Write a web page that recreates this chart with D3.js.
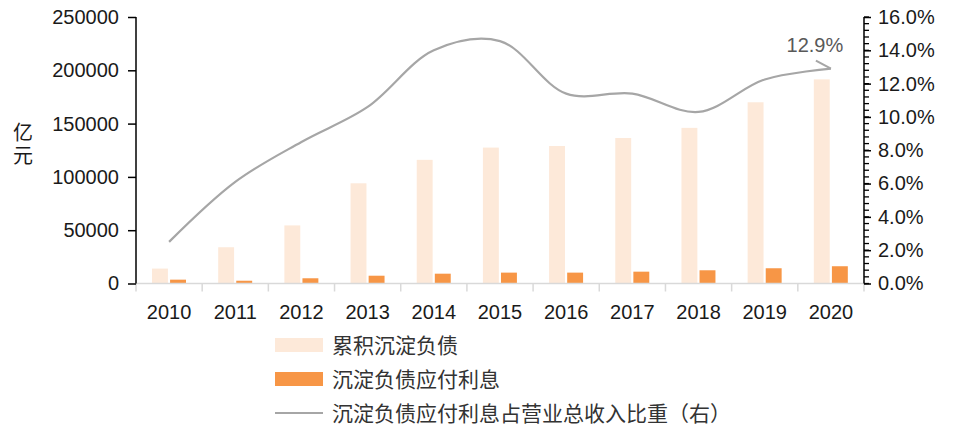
<!DOCTYPE html>
<html><head><meta charset="utf-8">
<script src="https://cdn.jsdelivr.net/npm/d3@7"></script>
<style>
html,body{margin:0;padding:0;background:#fff;}
svg{display:block;font-family:"Liberation Sans",Arial,"Noto Sans CJK SC",sans-serif;}
.cjk{font-family:"Noto Sans CJK SC","Liberation Sans",sans-serif;}
</style></head>
<body>
<script>
const years = ["2010","2011","2012","2013","2014","2015","2016","2017","2018","2019","2020"];
const accumulated = [14000,34000,54500,94000,116000,127500,129000,136500,146000,170000,191500];
const interest = [3600,2600,4900,7300,9200,10200,10200,11100,12400,14300,16200];
const ratio = [0.025,0.061,0.085,0.106,0.140,0.1455,0.114,0.114,0.103,0.1225,0.129];
const leftTicks = [0,50000,100000,150000,200000,250000];
const rightTicks = [0,0.02,0.04,0.06,0.08,0.10,0.12,0.14,0.16];
const legendLabels = ["累积沉淀负债","沉淀负债应付利息","沉淀负债应付利息占营业总收入比重（右）"];
const annotation = "12.9%";
const unitLabel = "亿元";

const W=960,H=432;
const L=136,R=864,T=17,B=283.5;
const colLight="#FDE9D9", colOrange="#F79646", colLine="#A6A6A6";

const svg=d3.select("body").append("svg").attr("width",W).attr("height",H);

const x=d3.scaleBand().domain(years).range([L,R]).padding(0);
const keys=["acc","int"];
const x1=d3.scaleBand().domain(keys).range([16,50]).paddingInner(0.12);
const y=d3.scaleLinear().domain([0,250000]).range([B,T]);
const y2=d3.scaleLinear().domain([0,0.16]).range([B,T]);

// bars
const g=svg.append("g");
g.selectAll(".b1").data(years).enter().append("rect")
 .attr("x",d=>x(d)+x1("acc")).attr("width",x1.bandwidth())
 .attr("y",(d,i)=>y(accumulated[i])).attr("height",(d,i)=>B-y(accumulated[i]))
 .attr("fill",colLight);
g.selectAll(".b2").data(years).enter().append("rect")
 .attr("x",d=>x(d)+x1("int")).attr("width",x1.bandwidth())
 .attr("y",(d,i)=>y(interest[i])).attr("height",(d,i)=>B-y(interest[i]))
 .attr("fill",colOrange);

// x axis
const xa=svg.append("g").attr("transform",`translate(0,${B})`);
xa.append("line").attr("x1",L).attr("x2",R).attr("stroke","#D9D9D9").attr("stroke-width",1.5);
const bounds=years.map(d=>x(d)).concat([R]);
xa.selectAll(".xt").data(bounds).enter().append("line")
 .attr("x1",d=>d).attr("x2",d=>d).attr("y1",0).attr("y2",8)
 .attr("stroke","#D9D9D9").attr("stroke-width",1.5);
xa.selectAll(".xl").data(years).enter().append("text")
 .attr("x",d=>x(d)+x.bandwidth()/2).attr("y",35)
 .attr("text-anchor","middle").attr("font-size",20).attr("fill","#1a1a1a").text(d=>d);

// left axis
const la=svg.append("g").attr("transform",`translate(${L},0)`);
la.call(d3.axisLeft(y).tickValues(leftTicks).tickSize(8).tickPadding(9).tickFormat(d=>String(d)));
la.select(".domain").attr("d",`M0,${T}V${B}`).attr("stroke","#000").attr("stroke-width",1.5);
la.selectAll(".tick line").attr("stroke","#000").attr("stroke-width",1.5);
la.selectAll(".tick text").attr("font-size",20).attr("fill","#1a1a1a").attr("font-family","'Liberation Sans',Arial,sans-serif");

// right axis
const ra=svg.append("g").attr("transform",`translate(${R},0)`);
const minor=d3.range(0,0.1601,0.004);
ra.selectAll(".mt").data(minor).enter().append("line")
 .attr("x1",0).attr("x2",5).attr("y1",d=>y2(d)).attr("y2",d=>y2(d))
 .attr("stroke","#000").attr("stroke-width",1.3);
ra.call(d3.axisRight(y2).tickValues(rightTicks).tickSize(7).tickPadding(7).tickFormat(d3.format(".1%")));
ra.select(".domain").attr("d",`M0,${T}V${B}`).attr("stroke","#000").attr("stroke-width",1.5);
ra.selectAll(".tick line").attr("stroke","#000").attr("stroke-width",1.5);
ra.selectAll(".tick text").attr("font-size",20).attr("fill","#1a1a1a").attr("font-family","'Liberation Sans',Arial,sans-serif");

// line
const line=d3.line().x((d,i)=>x(years[i])+x.bandwidth()/2).y(d=>y2(d)).curve(d3.curveCatmullRom.alpha(0.5));
svg.append("path").datum(ratio).attr("d",line).attr("fill","none").attr("stroke",colLine).attr("stroke-width",2.2);

// annotation
const lastX=x(years[10])+x.bandwidth()/2, lastY=y2(ratio[10]);
svg.append("line").attr("x1",lastX-15).attr("y1",lastY-8).attr("x2",lastX).attr("y2",lastY)
 .attr("stroke",colLine).attr("stroke-width",2);
svg.append("text").attr("x",lastX-16).attr("y",lastY-17).attr("text-anchor","middle")
 .attr("font-size",20).attr("fill","#595959").text(annotation);

// unit label (single vertical text)
svg.append("text").attr("class","cjk")
 .attr("x",23).attr("y",122)
 .style("writing-mode","vertical-rl").style("letter-spacing","3px")
 .attr("font-size",20).attr("fill","#1a1a1a").text(unitLabel);

// legend
const lg=svg.append("g");
const ly=[345,379,413];
lg.append("rect").attr("x",275).attr("y",ly[0]-7).attr("width",48).attr("height",14).attr("fill",colLight);
lg.append("rect").attr("x",275).attr("y",ly[1]-7).attr("width",48).attr("height",14).attr("fill",colOrange);
lg.append("line").attr("x1",275).attr("x2",323).attr("y1",ly[2]).attr("y2",ly[2]).attr("stroke",colLine).attr("stroke-width",2.2);
lg.selectAll(".lt").data(legendLabels).enter().append("text").attr("class","cjk")
 .attr("x",332).attr("y",(d,i)=>ly[i]+7.5).attr("font-size",21).attr("fill","#333").text(d=>d);
</script>
</body></html>
